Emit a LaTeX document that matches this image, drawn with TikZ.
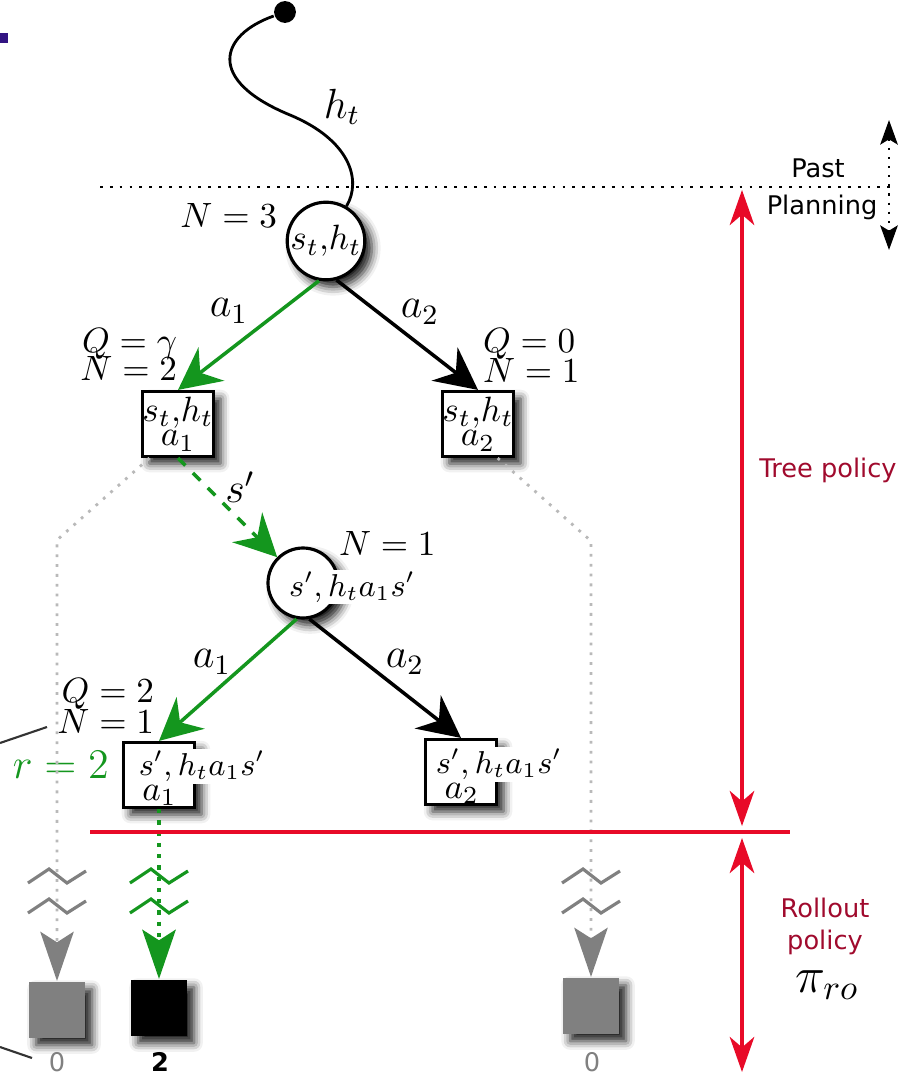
\documentclass[tikz,border=0pt]{standalone}
\usepackage{fontspec}
\newfontfamily\labelfont{DejaVu Sans}
\usetikzlibrary{arrows.meta,shadows.blur}
\definecolor{treegreen}{RGB}{20,150,30}
\definecolor{policyred}{RGB}{232,10,40}
\definecolor{darkred}{RGB}{160,10,45}
\definecolor{rolloutgray}{RGB}{128,128,128}
\definecolor{pathgray}{RGB}{185,185,185}
\definecolor{markblue}{RGB}{50,20,130}
\setlength{\fboxsep}{0.5pt}

\begin{document}
\begin{tikzpicture}[semithick,
  shade/.style={blur shadow={shadow xshift=2pt,shadow yshift=-2pt,shadow blur radius=2.5pt,shadow opacity=90}},
  vnode/.style={draw,circle,fill=white,minimum size=0.7cm,inner sep=0pt,line width=0.9pt,shade},
  qnode/.style={draw,rectangle,fill=white,minimum width=0.71cm,minimum height=0.65cm,inner sep=0pt,line width=0.9pt,shade,align=center},
  leaf/.style={rectangle,minimum size=0.56cm,inner sep=0pt,shade},
  lab/.style={inner sep=0pt},
  tree/.style={line width=1pt,-{Stealth[length=12pt,width=12pt,inset=4pt]}},
  drop/.style={-{Stealth[length=14pt,width=9.5pt,inset=3pt,color=#1]}},
  span/.style={policyred,line width=0.9pt,{Stealth[length=10pt,width=7pt,inset=3pt]}-{Stealth[length=10pt,width=7pt,inset=3pt]}},
  side/.style={font=\labelfont\fontsize{7.3}{9}\selectfont}]

\useasboundingbox (0,0) rectangle (9.04,-10.8);
\fill [markblue] (0,-0.33) rectangle (0.08,-0.43);

% history
\node[circle,fill,inner sep=2.2pt] (T) at (2.85,-0.12) {};
\node[vnode] (R) at (3.26,-2.41) {$s_t{,}h_t$};
\draw [line width=0.8pt] (T) .. controls (2.2,-0.35) and (2.05,-0.8) .. (2.9,-1.15) .. controls (3.5,-1.4) and (3.62,-1.8) .. (R);
\node at (3.42,-1.07) {\large $h_t$};
\node[lab,anchor=base east] at (2.78,-2.28) {$N=3$};

% past / planning
\draw [dotted,line width=0.8pt] (1.0,-1.87) -- (8.9,-1.87);
\draw [dotted,line width=0.6pt,{Stealth[length=7pt,width=5pt,inset=1.5pt]}-{Stealth[length=7pt,width=5pt,inset=1.5pt]}] (8.89,-1.2) -- (8.89,-2.5);
\node[side] at (8.18,-1.68) {Past};
\node[side] at (8.22,-2.07) {Planning};

% first level
\node[qnode] (A) at (1.78,-4.24) {$s_t{,}h_t$\\[-5pt]$a_1$};
\node[qnode] (B) at (4.78,-4.24) {$s_t{,}h_t$\\[-5pt]$a_2$};
\node[lab,anchor=base east] at (1.78,-3.52) {$Q=\gamma$};
\node[lab,anchor=base east] at (1.78,-3.80) {$N=2$};
\node[lab,anchor=base west] at (4.82,-3.53) {$Q=0$};
\node[lab,anchor=base west] at (4.82,-3.82) {$N=1$};

\draw [tree,treegreen] (R.-100) -- (A.north);
\draw [tree] (R.-75) -- (B.north);
\node at (2.29,-3.11) {\large $a_1$};
\node at (4.20,-3.12) {\large $a_2$};

% second level
\node[vnode] (S) at (3.03,-5.83) {};
\node[fill=white,inner sep=0.3pt,anchor=west] at (2.87,-5.87) {\small $s',h_ta_1s'$};
\node[lab,anchor=base west] at (3.38,-5.55) {$N=1$};
\draw [tree,treegreen,dashed] (A.south) -- (S.135);
\node at (2.40,-4.87) {\large $s'$};

\node[qnode] (C) at (1.59,-7.75) {};
\node[lab,align=left,anchor=north west] at (1.36,-7.48) {\colorbox{white}{\small $s',h_ta_1s'$}\\[-5pt]\hspace{1.5pt}$a_1$};
\node[qnode] (D) at (4.61,-7.72) {};
\node[lab,align=left,anchor=north west] at (4.33,-7.46) {\colorbox{white}{\small $s',h_ta_1s'$}\\[-5pt]\hspace{3pt}$a_2$};
\node[lab,anchor=base east] at (1.55,-7.02) {$Q=2$};
\node[lab,anchor=base east] at (1.55,-7.33) {$N=1$};
\node[lab,anchor=base east,treegreen] at (1.10,-7.78) {\large $r=2$};

\draw [tree,treegreen] (S.-100) -- (C.north);
\draw [tree] (S.-80) -- (D.north);
\node at (2.12,-6.62) {\large $a_1$};
\node at (4.05,-6.62) {\large $a_2$};

% rollouts
\node[leaf,fill=rolloutgray] (G1) at (0.57,-10.10) {};
\node[leaf,fill=black] (K) at (1.59,-10.08) {};
\node[leaf,fill=rolloutgray] (G2) at (5.91,-10.06) {};
\coordinate (A1) at (0.57,-5.40);
\coordinate (B1) at (5.91,-5.41);

\draw [pathgray,dotted,line width=0.8pt,drop=rolloutgray] (A.230) -- (A1) -- (G1.north);
\draw [pathgray,dotted,line width=0.8pt,drop=rolloutgray] (B.-60) -- (B1) -- (G2.north);
\draw [treegreen,dotted,line width=1.2pt,drop=treegreen] (C.south) -- (K.north);

\foreach \x/\c in {0.57/rolloutgray,1.59/treegreen,5.91/rolloutgray} {
  \foreach \y in {0,0.30} {
    \draw [\c,line width=0.9pt] (\x-0.29,-8.83-\y) -- (\x-0.08,-8.69-\y) -- (\x+0.10,-8.83-\y) -- (\x+0.29,-8.71-\y);
  }
}

\node[side,rolloutgray] at (0.57,-10.62) {0};
\node[side] at (1.60,-10.62) {\bfseries 2};
\node[side,rolloutgray] at (5.92,-10.62) {0};

% policies
\draw [policyred,line width=1pt] (0.90,-8.32) -- (7.90,-8.32);
\draw [span] (7.42,-1.90) -- (7.42,-8.26);
\draw [span] (7.42,-8.38) -- (7.42,-10.72);
\node[side,darkred] at (8.28,-4.70) {Tree policy};
\node[side,darkred] at (8.25,-9.08) {Rollout};
\node[side,darkred] at (8.25,-9.42) {policy};
\node at (8.27,-9.85) {\Large $\pi_{ro}$};

\draw [line width=0.6pt,black!80] (0,-7.43) -- (0.47,-7.27);
\draw [line width=0.6pt,black!80] (0,-10.47) -- (0.32,-10.58);
\end{tikzpicture}
\end{document}
